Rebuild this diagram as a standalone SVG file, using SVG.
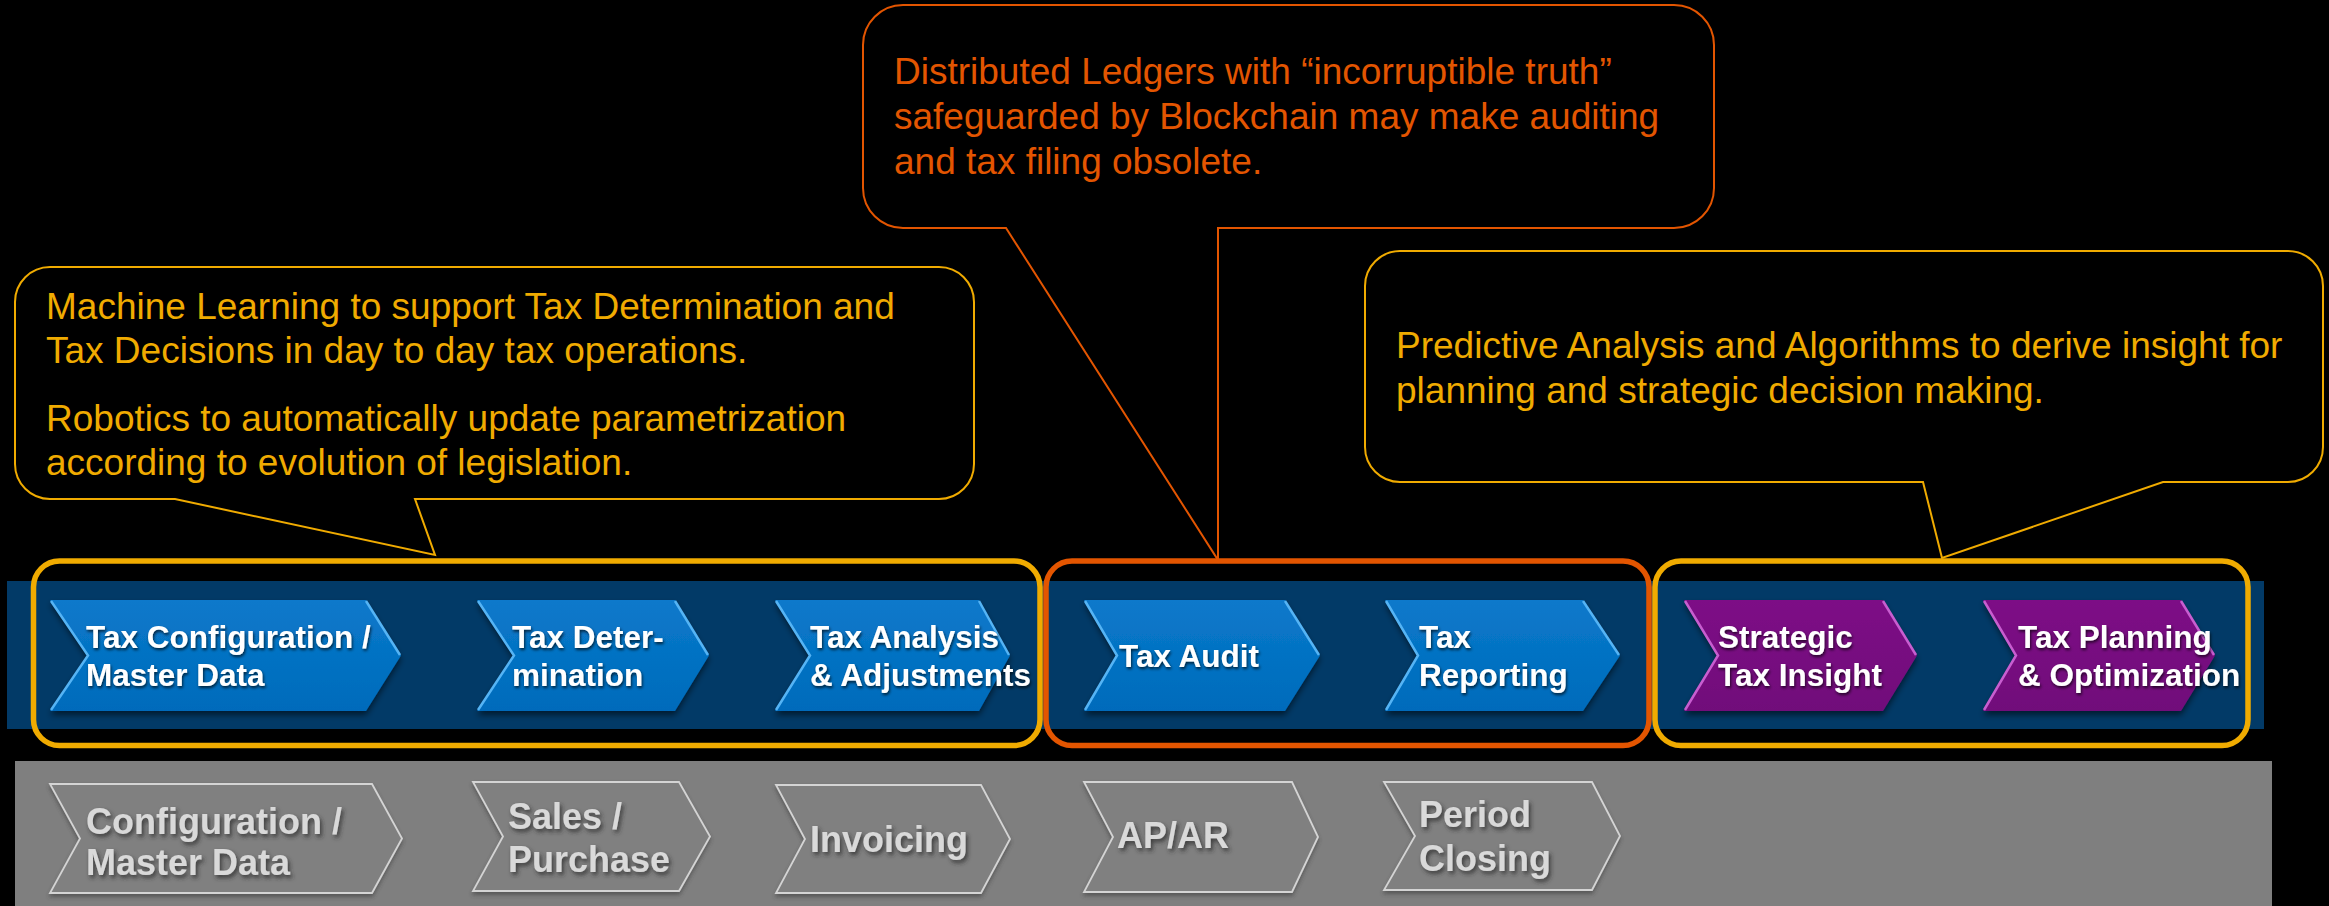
<svg xmlns="http://www.w3.org/2000/svg" width="2329" height="906" viewBox="0 0 2329 906">
<defs>
<style>
.bubble{fill:#000;stroke-width:2;stroke-linejoin:miter}
.gold{stroke:#F0AB00}
.orng{stroke:#E35500}
.ctxt{font-family:"Liberation Sans",Arial,sans-serif;font-size:37px}
.ctg{fill:#F0AB00}
.cto{fill:#E35500}
.grp{fill:none;stroke-width:5.5}
.blue{fill:url(#gBlue);filter:url(#shadow)}
.purp{fill:url(#gPurp);filter:url(#shadow)}
.hlb{fill:none;stroke:#55B4F5;stroke-width:2.5}
.hlp{fill:none;stroke:#C85ED0;stroke-width:2.5}
.wt{font-family:"Liberation Sans",Arial,sans-serif;font-weight:bold;font-size:31.5px;fill:#fff;filter:url(#tshadow)}
.gchev{fill:#808080;stroke:#D4D4D4;stroke-width:1.8;filter:url(#gshadow)}
.gt{font-family:"Liberation Sans",Arial,sans-serif;font-weight:bold;font-size:36px;fill:#D9D9D9;filter:url(#gtshadow)}
</style>
<linearGradient id="gBlue" x1="0" y1="0" x2="0" y2="1">
<stop offset="0" stop-color="#0A79CB"/><stop offset="1" stop-color="#006BBB"/>
</linearGradient>
<linearGradient id="gPurp" x1="0" y1="0" x2="0" y2="1">
<stop offset="0" stop-color="#7D1186"/><stop offset="1" stop-color="#710D7A"/>
</linearGradient>
<filter id="shadow" x="-10%" y="-20%" width="120%" height="150%">
<feDropShadow dx="0" dy="4" stdDeviation="3" flood-color="#000" flood-opacity="0.55"/>
</filter>
<filter id="tshadow" x="-5%" y="-20%" width="110%" height="150%">
<feDropShadow dx="1" dy="2" stdDeviation="1.5" flood-color="#000" flood-opacity="0.7"/>
</filter>
<filter id="gshadow" x="-10%" y="-20%" width="120%" height="150%">
<feDropShadow dx="0" dy="3" stdDeviation="2" flood-color="#3a3a3a" flood-opacity="0.6"/>
</filter>
<filter id="gtshadow" x="-5%" y="-20%" width="115%" height="160%">
<feDropShadow dx="2" dy="3" stdDeviation="2" flood-color="#2a2a2a" flood-opacity="0.8"/>
</filter>
</defs>

<rect width="2329" height="906" fill="#000"/>

<!-- bands -->
<rect id="blue-band" x="7" y="581" width="2257" height="148" fill="#023A67"/>
<rect id="gray-band" x="15" y="761" width="2257" height="145" fill="#7F7F7F"/>

<!-- callouts -->
<g id="callout-ml">
<path class="bubble gold" d="M50,267 H939 A35,35 0 0 1 974,302 V464 A35,35 0 0 1 939,499 H415 L435,555 L175,499 H50 A35,35 0 0 1 15,464 V302 A35,35 0 0 1 50,267 Z"/>
<text class="ctxt ctg" x="46" y="319">Machine Learning to support Tax Determination and</text>
<text class="ctxt ctg" x="46" y="363">Tax Decisions in day to day tax operations.</text>
<text class="ctxt ctg" x="46" y="431">Robotics to automatically update parametrization</text>
<text class="ctxt ctg" x="46" y="475">according to evolution of legislation.</text>
</g>
<g id="callout-blockchain">
<path class="bubble orng" d="M903,5 H1674 A40,40 0 0 1 1714,45 V188 A40,40 0 0 1 1674,228 H1218 L1218,560 L1006,228 H903 A40,40 0 0 1 863,188 V45 A40,40 0 0 1 903,5 Z"/>
<text class="ctxt cto" x="894" y="83.5">Distributed Ledgers with “incorruptible truth”</text>
<text class="ctxt cto" x="894" y="128.5">safeguarded by Blockchain may make auditing</text>
<text class="ctxt cto" x="894" y="173.5">and tax filing obsolete.</text>
</g>
<g id="callout-predictive">
<path class="bubble gold" d="M1400,251 H2288 A35,35 0 0 1 2323,286 V447 A35,35 0 0 1 2288,482 H2163 L1942,558 L1923,482 H1400 A35,35 0 0 1 1365,447 V286 A35,35 0 0 1 1400,251 Z"/>
<text class="ctxt ctg" x="1396" y="358">Predictive Analysis and Algorithms to derive insight for</text>
<text class="ctxt ctg" x="1396" y="403">planning and strategic decision making.</text>
</g>

<g id="connectors"></g>

<!-- blue chevrons -->
<g id="tax-configuration">
<polygon class="blue" points="50,600 366,600 401,655.5 366,711 50,711 88,655.5"/>
<polyline class="hlb" points="51,601 88,655.5 51,710"/>
<polyline class="hlb" points="366,601 400,655"/>
<text class="wt" x="86" y="648">Tax Configuration /</text>
<text class="wt" x="86" y="686">Master Data</text>
</g>
<g id="tax-determination">
<polygon class="blue" points="477,600 675,600 709,655.5 675,711 477,711 514,655.5"/>
<polyline class="hlb" points="478,601 514,655.5 478,710"/>
<polyline class="hlb" points="675,601 708,655"/>
<text class="wt" x="512" y="648">Tax Deter-</text>
<text class="wt" x="512" y="686">mination</text>
</g>
<g id="tax-analysis">
<polygon class="blue" points="775,600 979,600 1010,655.5 979,711 775,711 810,655.5"/>
<polyline class="hlb" points="776,601 810,655.5 776,710"/>
<polyline class="hlb" points="979,601 1009,655"/>
<text class="wt" x="810" y="648">Tax Analysis</text>
<text class="wt" x="810" y="686">&amp; Adjustments</text>
</g>
<g id="tax-audit">
<polygon class="blue" points="1084,600 1285,600 1320,655.5 1285,711 1084,711 1117,655.5"/>
<polyline class="hlb" points="1085,601 1117,655.5 1085,710"/>
<polyline class="hlb" points="1285,601 1319,655"/>
<text class="wt" x="1119" y="667">Tax Audit</text>
</g>
<g id="tax-reporting">
<polygon class="blue" points="1385,600 1583,600 1620,655.5 1583,711 1385,711 1418,655.5"/>
<polyline class="hlb" points="1386,601 1418,655.5 1386,710"/>
<polyline class="hlb" points="1583,601 1619,655"/>
<text class="wt" x="1419" y="648">Tax</text>
<text class="wt" x="1419" y="686">Reporting</text>
</g>
<g id="strategic-tax-insight">
<polygon class="purp" points="1684,600 1883,600 1917,655.5 1883,711 1684,711 1718,655.5"/>
<polyline class="hlp" points="1685,601 1718,655.5 1685,710"/>
<polyline class="hlp" points="1883,601 1916,655"/>
<text class="wt" x="1718" y="648">Strategic</text>
<text class="wt" x="1718" y="686">Tax Insight</text>
</g>
<g id="tax-planning">
<polygon class="purp" points="1983,600 2181,600 2215,655.5 2181,711 1983,711 2016,655.5"/>
<polyline class="hlp" points="1984,601 2016,655.5 1984,710"/>
<polyline class="hlp" points="2181,601 2214,655"/>
<text class="wt" x="2018" y="648">Tax Planning</text>
<text class="wt" x="2018" y="686">&amp; Optimization</text>
</g>

<!-- group frames -->
<g id="group-operations"><rect class="grp" x="33.5" y="561" width="1006.5" height="184.5" rx="26" stroke="#F0AB00"/></g>
<g id="group-audit"><rect class="grp" x="1046" y="561" width="603" height="184.5" rx="26" stroke="#E35500"/></g>
<g id="group-strategy"><rect class="grp" x="1655" y="561" width="593" height="184.5" rx="26" stroke="#F0AB00"/></g>

<!-- gray chevrons -->
<g id="configuration">
<polygon class="gchev" points="50,784 372,784 402,838.5 372,893 50,893 80,838.5"/>
<text class="gt" x="86" y="834">Configuration /</text>
<text class="gt" x="86" y="875">Master Data</text>
</g>
<g id="sales-purchase">
<polygon class="gchev" points="473,782 679,782 710,836.5 679,891 473,891 503,836.5"/>
<text class="gt" x="508" y="829">Sales /</text>
<text class="gt" x="508" y="872">Purchase</text>
</g>
<g id="invoicing">
<polygon class="gchev" points="776,785 981,785 1010,839 981,893 776,893 805,839"/>
<text class="gt" x="810" y="852">Invoicing</text>
</g>
<g id="ap-ar">
<polygon class="gchev" points="1084,782 1292,782 1318,837 1292,892 1084,892 1113,837"/>
<text class="gt" x="1117" y="848">AP/AR</text>
</g>
<g id="period-closing">
<polygon class="gchev" points="1384,782 1592,782 1620,836 1592,890 1384,890 1415,836"/>
<text class="gt" x="1419" y="827">Period</text>
<text class="gt" x="1419" y="871">Closing</text>
</g>
</svg>
